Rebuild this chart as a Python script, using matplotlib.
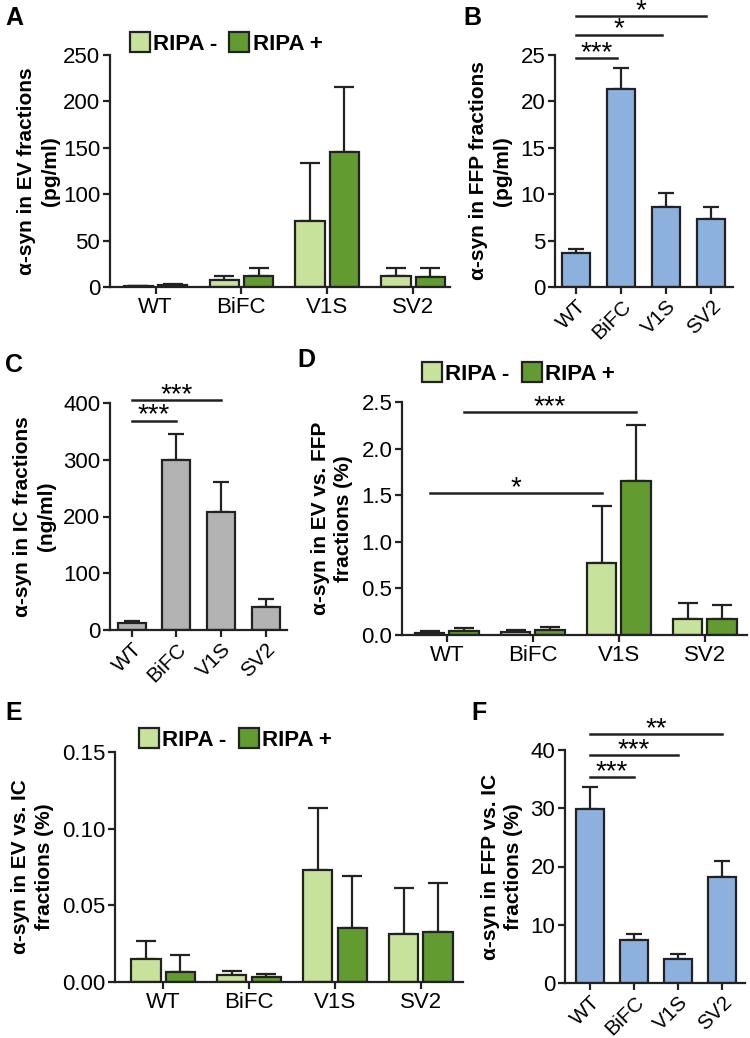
import matplotlib.pyplot as plt
import numpy as np
from matplotlib.lines import Line2D

plt.rcParams['font.family'] = ['Liberation Sans', 'DejaVu Sans']

groups = ['WT', 'BiFC', 'V1S', 'SV2']

# A: EV fractions (pg/ml)
ev_minus = [1.0, 8.0, 71.5, 11.5]
ev_minus_err = [0.6, 4.0, 62.0, 8.5]
ev_plus = [2.0, 12.0, 145.5, 11.0]
ev_plus_err = [1.5, 8.0, 70.0, 9.0]

# B: FFP fractions (pg/ml)
ffp = [3.7, 21.3, 8.6, 7.3]
ffp_err = [0.4, 2.3, 1.5, 1.3]
ffp_sig = [(1, 24.7, '***'), (2, 27.2, '*'), (3, 29.2, '*')]

# C: IC fractions (ng/ml)
ic = [13, 300, 208, 41]
ic_err = [3, 45, 53, 13]
ic_sig = [(1, 369, '***'), (2, 405, '***')]

# D: EV vs FFP (%)
evffp_minus = [0.02, 0.03, 0.775, 0.175]
evffp_minus_err = [0.02, 0.02, 0.61, 0.165]
evffp_plus = [0.04, 0.05, 1.654, 0.168]
evffp_plus_err = [0.04, 0.04, 0.6, 0.155]

# E: EV vs IC (%)
evic_minus = [0.0148, 0.0043, 0.0733, 0.0315]
evic_minus_err = [0.0122, 0.0029, 0.0404, 0.0298]
evic_plus = [0.0065, 0.0033, 0.0354, 0.0324]
evic_plus_err = [0.0109, 0.0017, 0.0335, 0.0324]

# F: FFP vs IC (%)
ffpic = [29.9, 7.3, 4.2, 18.2]
ffpic_err = [3.8, 1.1, 0.8, 2.8]
ffpic_sig = [(1, 35.4, '***'), (2, 39.1, '***'), (3, 42.7, '**')]

light_green = '#c6e29b'
dark_green = '#629b2f'
blue = '#8db1de'
grey = '#b3b3b3'
edge = '#222222'

W, H = 750, 1038
fig = plt.figure(figsize=(W / 100, H / 100), dpi=100)


def make_axes(left, right, top, bottom):
    return fig.add_axes([left / W, 1 - bottom / H, (right - left) / W, (bottom - top) / H])


def style_axes(ax, ylim, yticks, fmt, xlim, rotate, ylabel, label_px, left_px, right_px):
    ax.set_ylim(*ylim)
    ax.set_xlim(*xlim)
    ax.spines['top'].set_visible(False)
    ax.spines['right'].set_visible(False)
    ax.spines['left'].set_bounds(ylim[0], ylim[1])
    for s in ['left', 'bottom']:
        ax.spines[s].set_linewidth(1.6)
        ax.spines[s].set_color(edge)
    ax.set_yticks(yticks)
    ax.set_yticklabels([fmt.format(v) for v in yticks])
    ax.set_xticks(np.arange(len(groups)))
    ax.tick_params(axis='both', direction='out', length=5, width=1.6, color=edge,
                   labelsize=16, pad=2)
    if rotate:
        ax.set_xticklabels(groups, rotation=45, ha='right', rotation_mode='anchor', fontsize=15)
    else:
        ax.set_xticklabels(groups)
    ax.set_ylabel(ylabel, fontsize=15, fontweight='bold', linespacing=1.3)
    # label anchor is the right edge of the rotated text
    ax.yaxis.set_label_coords((label_px - left_px) / (right_px - left_px), 0.5)


def single_bars(ax, vals, errs, color):
    x = np.arange(len(vals))
    ax.errorbar(x, vals, yerr=[np.zeros(len(vals)), errs], fmt='none', ecolor=edge,
                elinewidth=1.6, capsize=6, capthick=1.6, zorder=1)
    ax.bar(x, vals, width=0.63, color=color, edgecolor=edge, linewidth=1.6, zorder=2)


def pair_bars(ax, v1, e1, v2, e2):
    x = np.arange(len(v1))
    for off, v, e, c in [(-0.2, v1, e1, light_green), (0.2, v2, e2, dark_green)]:
        ax.errorbar(x + off, v, yerr=[np.zeros(len(v)), e], fmt='none', ecolor=edge,
                    elinewidth=1.6, capsize=7, capthick=1.6, zorder=1)
        ax.bar(x + off, v, width=0.34, color=c, edgecolor=edge, linewidth=1.6, zorder=2)


def sig_lines(ax, sigs, start=0.0, shrink=0.0):
    for end, y, txt in sigs:
        x1 = end - shrink
        ax.plot([start, x1], [y, y], color=edge, lw=1.8, clip_on=False)
        ax.annotate(txt, xy=((start + x1) / 2, y), xytext=(0, -1.5),
                    textcoords='offset points', ha='center', va='baseline',
                    fontsize=20, annotation_clip=False)


def rip_legend(ax, x, y):
    handles = [Line2D([], [], marker='s', ls='none', markersize=15,
                      markerfacecolor=c, markeredgecolor=edge, markeredgewidth=1.6)
               for c in (light_green, dark_green)]
    ax.legend(handles, ['RIPA -', 'RIPA +'], ncol=2, frameon=False, loc='center left',
              bbox_to_anchor=(x, y), handlelength=0.8, handletextpad=0.2,
              columnspacing=0.6, prop={'size': 16, 'weight': 'bold'}, borderaxespad=0)


# Panel A
axA = make_axes(110, 450, 55, 287)
pair_bars(axA, ev_minus, ev_minus_err, ev_plus, ev_plus_err)
style_axes(axA, (0, 250), np.arange(0, 251, 50), '{:.0f}', (-0.53, 3.43), False,
           'α-syn in EV fractions\n(pg/ml)', 60, 110, 450)
rip_legend(axA, 0.035, 1.045)

# Panel B
axB = make_axes(555, 733, 55, 287)
single_bars(axB, ffp, ffp_err, blue)
style_axes(axB, (0, 25), np.arange(0, 26, 5), '{:.0f}', (-0.47, 3.49), True,
           'α-syn in FFP fractions\n(pg/ml)', 512, 555, 733)
sig_lines(axB, ffp_sig, shrink=0.1)

# Panel C
axC = make_axes(110, 287, 403, 630)
single_bars(axC, ic, ic_err, grey)
style_axes(axC, (0, 400), np.arange(0, 401, 100), '{:.0f}', (-0.49, 3.48), True,
           'α-syn in IC fractions\n(ng/ml)', 56, 110, 287)
sig_lines(axC, ic_sig)

# Panel D
axD = make_axes(402, 747, 402, 635)
pair_bars(axD, evffp_minus, evffp_minus_err, evffp_plus, evffp_plus_err)
style_axes(axD, (0, 2.5), np.arange(0, 2.51, 0.5), '{:.1f}', (-0.52, 3.49), False,
           'α-syn in EV vs. FFP\nfractions (%)', 353, 402, 747)
rip_legend(axD, 0.035, 1.12)
sig_lines(axD, [(2.2, 2.39, '***')], start=0.2)
sig_lines(axD, [(1.8, 1.52, '*')], start=-0.2)

# Panel E
axE = make_axes(115, 463, 752, 982)
pair_bars(axE, evic_minus, evic_minus_err, evic_plus, evic_plus_err)
style_axes(axE, (0, 0.15), np.arange(0, 0.151, 0.05), '{:.2f}', (-0.56, 3.49), False,
           'α-syn in EV vs. IC\nfractions (%)', 54, 115, 463)
rip_legend(axE, 0.047, 1.05)

# Panel F
axF = make_axes(565, 745, 750, 983)
single_bars(axF, ffpic, ffpic_err, blue)
style_axes(axF, (0, 40), np.arange(0, 41, 10), '{:.0f}', (-0.57, 3.52), True,
           'α-syn in FFP vs. IC\nfractions (%)', 523, 565, 745)
sig_lines(axF, ffpic_sig)

# panel letters
for letter, x, y in [('A', 5, 25), ('B', 463, 25), ('C', 5, 372), ('D', 297, 367),
                     ('E', 5, 720), ('F', 471, 720)]:
    fig.text(x / W, 1 - y / H, letter, fontsize=18, fontweight='bold', ha='left', va='baseline')

fig.savefig('out.png', dpi=100)
